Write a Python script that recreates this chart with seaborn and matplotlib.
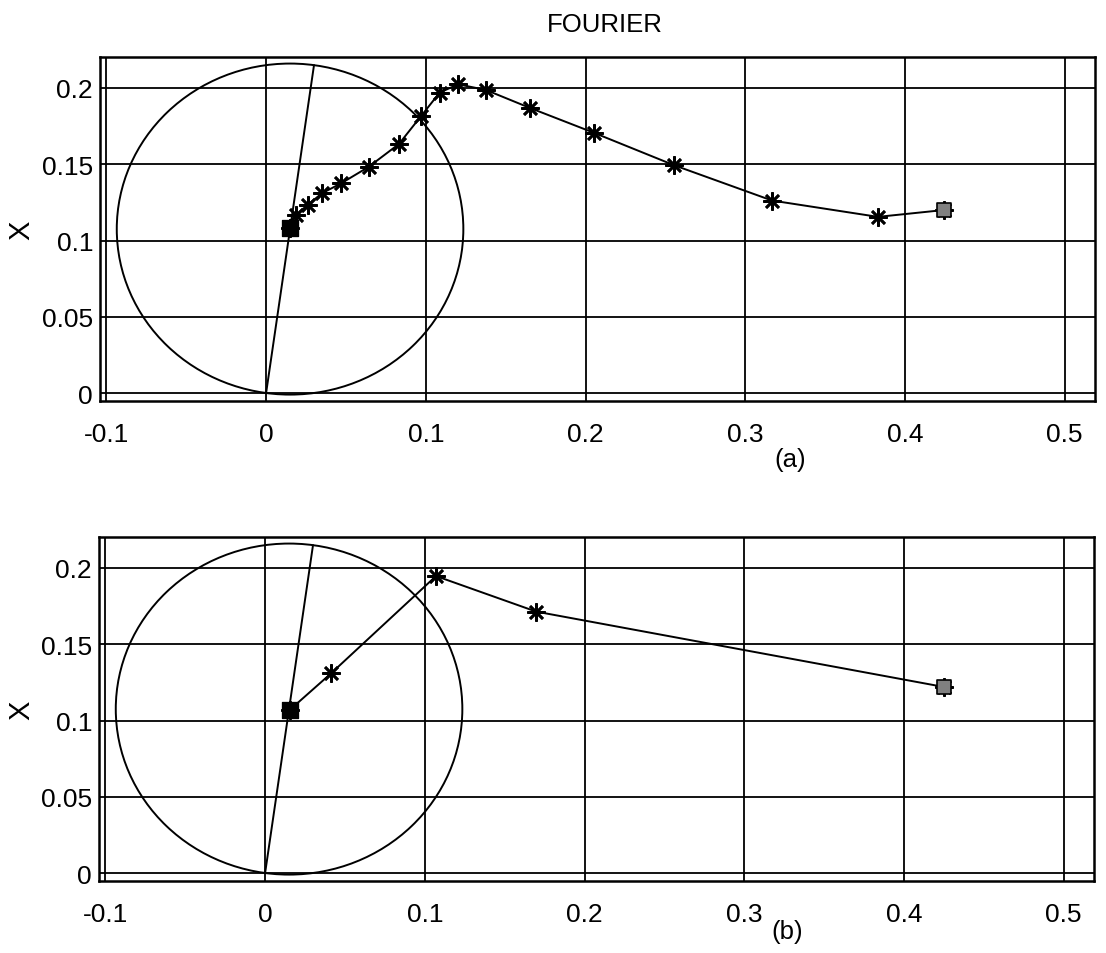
import matplotlib
matplotlib.use("Agg")
import matplotlib.pyplot as plt
from matplotlib.patches import Circle
import seaborn as sns
import pandas as pd

# ---- data ----
circle_center = (0.015, 0.1075)
circle_radius = 0.1085

xa = [0.015, 0.0185, 0.026, 0.035, 0.047, 0.0644, 0.0832, 0.0972, 0.1087, 0.1203,
      0.1376, 0.165, 0.2053, 0.2556, 0.3168, 0.3831, 0.4245]
ya = [0.108, 0.1167, 0.1233, 0.131, 0.1375, 0.1484, 0.1633, 0.1818, 0.197, 0.2024,
      0.1987, 0.187, 0.1706, 0.1493, 0.1262, 0.1155, 0.120]

xb = [0.0155, 0.0414, 0.107, 0.1697, 0.425]
yb = [0.107, 0.131, 0.1947, 0.1714, 0.122]

xticks = [-0.1, 0, 0.1, 0.2, 0.3, 0.4, 0.5]
xticklabels = ["-0.1", "0", "0.1", "0.2", "0.3", "0.4", "0.5"]
yticks = [0, 0.05, 0.1, 0.15, 0.2]
yticklabels = ["0", "0.05", "0.1", "0.15", "0.2"]

title = "FOURIER"
ylabel = "X"
panel_labels = ["(a)", "(b)"]

# ---- style ----
sns.set_style("white")
plt.rcParams["font.family"] = ["Liberation Sans", "DejaVu Sans"]
plt.rcParams["text.color"] = "black"

W, H = 1106, 954
fig = plt.figure(figsize=(W / 100, H / 100), dpi=100)


def px_axes(left, top, right, bottom):
    return [left / W, 1 - bottom / H, (right - left) / W, (bottom - top) / H]


ax1 = fig.add_axes(px_axes(100, 58, 1095, 402))
ax2 = fig.add_axes(px_axes(99, 538, 1094, 882))

asterisk = (8, 2, 0)

panels = [(ax1, xa, ya, panel_labels[0], (790, 460)),
          (ax2, xb, yb, panel_labels[1], (787, 932))]

for ax, xs, ys, lab, lpos in panels:
    cx, cy = circle_center
    ax.add_patch(Circle(circle_center, circle_radius, fill=False, ec="black", lw=1.4, zorder=3))
    sns.lineplot(x=[0, 2 * cx], y=[0, 2 * cy], ax=ax, color="black", lw=1.4,
                 sort=False, estimator=None, zorder=3)
    df = pd.DataFrame({"x": xs, "y": ys})
    sns.lineplot(data=df, x="x", y="y", ax=ax, color="black", lw=1.4, sort=False,
                 estimator=None, marker=asterisk, markersize=13, mec="black",
                 mew=1.9, zorder=4)
    # start marker (filled square) and end marker (hatched square)
    sns.scatterplot(x=[xs[0]], y=[ys[0]], ax=ax, marker="s", s=140, color="black",
                    zorder=5, edgecolor="black")
    sns.scatterplot(x=[xs[-1]], y=[ys[-1]], ax=ax, marker="s", s=100, color="#808080",
                    edgecolor="black", linewidth=1.2, zorder=5)
    ax.set_xlim(-0.104, 0.519)
    ax.set_ylim(-0.0052, 0.2203)
    ax.set_xticks(xticks)
    ax.set_xticklabels(xticklabels)
    ax.set_yticks(yticks)
    ax.set_yticklabels(yticklabels)
    ax.grid(True, color="black", lw=1.3)
    ax.set_axisbelow(True)
    for s in ax.spines.values():
        s.set_color("black")
        s.set_linewidth(1.8)
    ax.tick_params(axis="both", direction="in", length=0, labelsize=19,
                   colors="black", labelcolor="black")
    ax.tick_params(axis="x", pad=15)
    ax.tick_params(axis="y", pad=5)
    ax.set_xlabel("")
    ax.set_ylabel("")
    pos = ax.get_position()
    fig.text(21 / W, pos.y0 + 0.5 * pos.height, ylabel, color="black",
             rotation=90, fontsize=21, ha="center", va="center")
    fig.text(lpos[0] / W, 1 - lpos[1] / H, lab, color="black",
             fontsize=18.5, ha="center", va="center")

fig.text(605 / W, 1 - 25 / H, title, color="black", fontsize=18.5,
         ha="center", va="center")

fig.savefig("out.png", dpi=100)
